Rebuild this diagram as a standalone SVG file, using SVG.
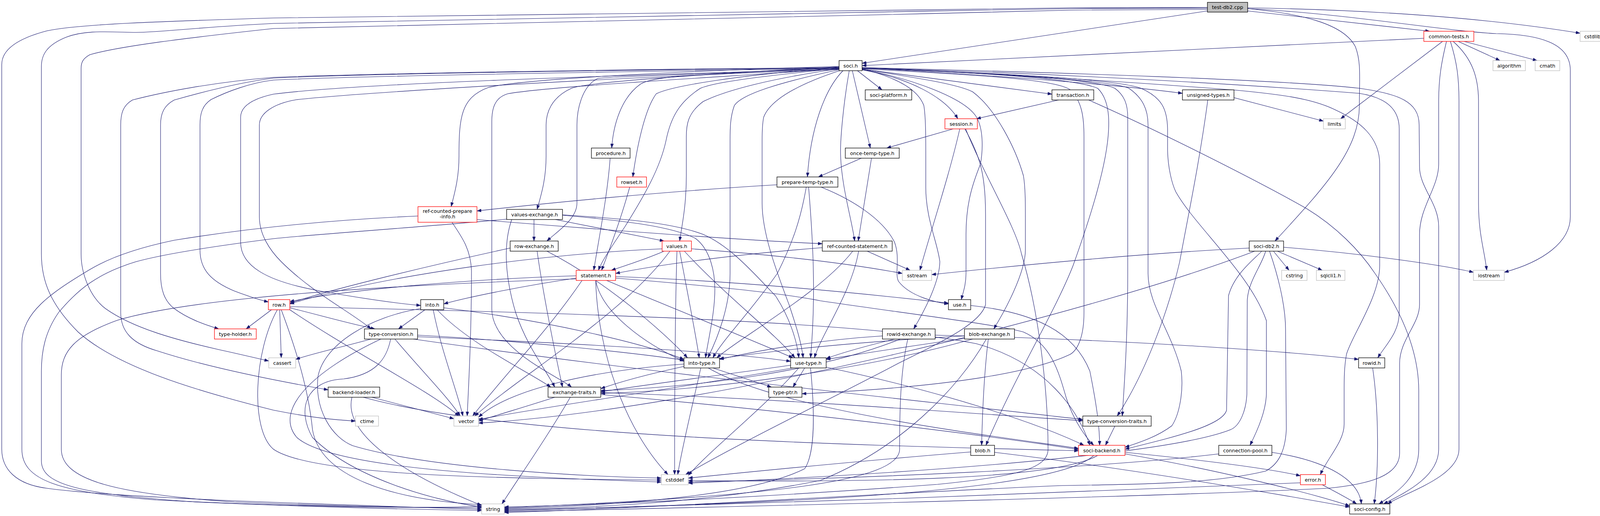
<svg xmlns="http://www.w3.org/2000/svg" width="4137" height="1321" viewBox="0 0 4137 1321">
<defs>
<marker id="a" viewBox="0 0 11 8" refX="11" refY="4" markerWidth="11" markerHeight="8" markerUnits="userSpaceOnUse" orient="auto">
<path d="M0,0 L11,4 L0,8 z" fill="#191970" stroke="#191970" stroke-width="0.5"/>
</marker>
<style>
.e path{fill:none;stroke:#191970;stroke-width:1.1;marker-end:url(#a)}
.b rect{fill:#fff;stroke:#000;stroke-width:1.3}
.r rect{fill:#fff;stroke:#f00;stroke-width:1.3}
.g rect{fill:#fff;stroke:#bfbfbf;stroke-width:1.3}
.t rect{fill:#bfbfbf;stroke:#000;stroke-width:1.3}
text{font-family:"DejaVu Sans",Verdana,sans-serif;font-size:12.7px;text-anchor:middle;fill:#000}
</style>
</defs>
<rect x="0" y="0" width="4137" height="1321" fill="#fff"/>
<g id="edges" class="e">
<path d="M3091,28 L2207,162"/>
<path d="M3194,28 L3660,80"/>
<path d="M3194,20 C3500,25 3800,45 4045,85"/>
<path d="M3194,22 C3450,35 3700,80 3830,86 C3940,88 4020,110 4020,180 L4020,555 C4020,620 3950,670 3851,697"/>
<path d="M3194,22 C3330,35 3440,60 3470,120 C3485,160 3480,200 3480,270 C3480,380 3400,470 3264,617"/>
<path d="M3091,19 L2740,20 C2000,30 1200,42 700,46 C400,55 200,62 120,79 C40,100 4.5,130 4.5,165 L4.5,1150 C4.5,1200 40,1240 120,1250 C300,1275 800,1290 1233,1304"/>
<path d="M3091,21 L2740,22 C2000,35 1200,50 700,60 C500,70 420,82 348,83 C280,82 220,76 170,95 C120,115 106,140 106,170 L106,650 C106,720 130,780 200,850 C300,940 500,1000 700,1050 C800,1070 860,1075 910,1078"/>
<path d="M3091,24 L2740,26 C2000,45 1200,60 700,73 C450,100 300,120 230,140 C212,150 207.6,160 207.6,175 L207.6,650 C207.6,700 230,760 270,790 C340,840 450,870 560,895 C620,908 660,918 688,924"/>
<path d="M3645,98 L2207,168"/>
<path d="M3693,106 L3432,304"/>
<path d="M3733,106 L3840,155"/>
<path d="M3748,106 L3935,155"/>
<path d="M3720,106 C3770,150 3785,200 3785,260 L3785,520 C3785,600 3800,640 3806,692"/>
<path d="M3713,106 C3730,160 3735,200 3735,260 L3735,1150 C3735,1220 3600,1260 3552,1290"/>
<path d="M3703,106 C3690,160 3683,200 3683,260 L3683,420 C3683,480 3634,530 3634,600 L3634,780 C3634,830 3583,870 3583,930 L3583,1160 C3583,1220 3500,1240 3400,1250 C3000,1270 2000,1295 1291,1310"/>
<path d="M2195,181 L2258,230"/>
<path d="M2207,177 L2693,241"/>
<path d="M2207,174 C2500,190 2850,215 3027,239"/>
<path d="M2207,179 C2330,200 2420,250 2452,304"/>
<path d="M2182,181 L2228,379"/>
<path d="M2174,181 C2160,260 2150,360 2152,400 C2155,480 2180,560 2188,617"/>
<path d="M2158,181 C2110,230 2075,330 2067,453"/>
<path d="M2148,170 C1800,180 1350,200 1250,224 C1180,250 1175,300 1175,400 C1175,460 1162,500 1155,529"/>
<path d="M2148,171 C1800,190 1500,210 1463,226 C1410,250 1398,290 1398,320 L1398,400 C1398,460 1385,500 1375,536"/>
<path d="M2148,172 C1850,190 1560,195 1530,201 C1490,220 1477,280 1477,320 L1477,520 C1477,560 1430,590 1400,617"/>
<path d="M2148,173 C1850,190 1680,190 1640,215 C1590,250 1570,320 1566,379"/>
<path d="M2148,174 C1900,190 1720,220 1680,240 C1650,280 1630,380 1620,453"/>
<path d="M2148,175 C1950,195 1830,210 1793,226 C1740,260 1717,300 1705,360 C1690,430 1650,500 1600,580 C1560,640 1540,670 1532,692"/>
<path d="M2148,176 C1980,200 1860,230 1800,260 C1760,290 1757,320 1757,350 L1757,450 C1757,530 1745,580 1740,617"/>
<path d="M2150,178 C2000,210 1900,240 1880,270 C1869,300 1869,330 1869,360 L1869,700 C1869,780 1840,860 1812,916"/>
<path d="M2152,180 C2030,220 1970,260 1955,300 C1951,320 1951,340 1951,360 L1951,520 C1951,600 1990,700 2020,780 C2040,840 2052,880 2056,916"/>
<path d="M2207,178 C2330,200 2470,250 2500,300 C2517,330 2517,380 2510,420 C2490,470 2473,520 2473,600 L2473,700 C2473,730 2465,750 2461,767"/>
<path d="M2207,176 C2300,200 2350,230 2365,270 C2370,300 2370,350 2370,400 L2370,480 C2370,560 2400,620 2406,670 C2405,720 2370,790 2339,842"/>
<path d="M2207,177 C2350,200 2450,215 2490,235 C2550,280 2600,380 2620,450 C2625,480 2625,520 2625,560 L2625,640 C2625,700 2570,800 2544,842"/>
<path d="M2207,174 C2500,185 2750,200 2810,226 C2835,250 2840,290 2838,330 C2835,420 2790,560 2747,680 C2700,800 2600,960 2524,1140"/>
<path d="M2207,175 C2500,185 2850,200 2921,226 C2975,250 2988,280 2989,330 L2989,385 C2990,430 3000,470 3010,491 C3060,580 3200,700 3242,821 L3242,1005 C3242,1050 3220,1100 3200,1140"/>
<path d="M2207,174 C2500,185 2900,210 3166,231 C3280,242 3360,252 3420,282 C3480,310 3532,350 3532,420 L3532,680 C3532,760 3460,860 3447,907 C3441,940 3441,970 3441,1000 L3441,1086 C3441,1130 3400,1170 3380,1215"/>
<path d="M2148,176 C1800,200 1400,222 1300,240 C1265,250 1259,280 1259,312 L1259,791 C1259,840 1300,890 1380,940 C1420,965 1450,980 1463,991"/>
<path d="M2148,177 C1500,195 900,215 700,241 C650,252 616,270 616,300 L616,620 C616,680 680,720 820,745 C950,768 1030,778 1077,782"/>
<path d="M2148,175 C1500,185 900,195 700,205 C640,212 580,235 540,255 C518,270 512,290 512,320 L512,640 C512,690 540,720 600,745 C640,760 665,768 687,773"/>
<path d="M2148,174 C1500,180 900,190 700,200 C620,210 520,235 446,256 C420,270 411,290 411,320 L411,700 C411,740 420,770 446,790 C480,815 520,830 560,842"/>
<path d="M2148,173 C1500,178 900,190 700,198 C550,210 420,235 339,256 C315,270 309,290 309,320 L309,800 C309,850 340,880 402,898 C500,930 650,965 840,998"/>
<path d="M2148,178 C1500,200 900,240 760,255 C700,265 664,290 664,320 L664,555 C664,600 690,640 720,670 C800,750 900,800 950,842"/>
<path d="M2207,176 C2450,190 2700,200 2740,230 C2770,260 2775,300 2775,350 L2775,800 C2775,860 2760,895 2740,907 C2650,950 2450,990 2053,1008"/>
<path d="M2207,174 C2500,186 2850,205 2890,226 C2925,250 2939,280 2939,320 L2939,700 C2939,780 3000,850 3024,950 C3030,1000 3020,1060 3000,1090 C2960,1120 2910,1135 2880,1145"/>
<path d="M2207,174 C2500,185 2800,200 2854,226 C2880,245 2887,270 2887,300 L2887,700 C2887,850 2880,960 2873,1065"/>
<path d="M2207,173 C2700,185 3300,205 3480,226 C3580,240 3633,260 3633,320 L3634,427 C3634,480 3683,520 3683,580 L3683,1150 C3683,1220 3600,1260 3542,1290"/>
<path d="M2207,174 C2800,190 3300,225 3480,239 C3550,250 3582,280 3582,330 L3582,800 C3582,850 3550,880 3527,916"/>
<path d="M2710,256 L2500,304"/>
<path d="M2787,256 C3000,350 3250,480 3345,534 C3420,580 3480,640 3520,700 C3590,800 3632,900 3632,1000 L3632,1150 C3632,1220 3580,1260 3530,1290"/>
<path d="M3159,250 L3388,310"/>
<path d="M3092,256 C3070,420 3040,560 3020,670 C2990,800 2930,960 2860,1065"/>
<path d="M2440,330 L2270,379"/>
<path d="M2457,330 C2430,450 2380,600 2355,692"/>
<path d="M2470,330 C2510,400 2523,450 2523,550 L2523,780 C2510,830 2400,880 2300,930 C2150,1010 1900,1130 1755,1215"/>
<path d="M2472,330 C2520,450 2600,580 2615,650 C2660,800 2683,1000 2683,1150 C2683,1200 2600,1220 2400,1240 C2000,1270 1600,1290 1291,1298"/>
<path d="M2205,405 L2095,453"/>
<path d="M2231,405 L2197,617"/>
<path d="M1989,473 C1700,490 1400,520 1221,540"/>
<path d="M2064,479 C2050,560 2030,620 1990,700 C1920,800 1850,870 1825,916"/>
<path d="M2070,479 C2080,600 2090,750 2075,916"/>
<path d="M2102,479 C2180,510 2260,560 2290,620 C2305,660 2290,700 2300,720 C2330,760 2400,775 2428,778"/>
<path d="M1221,562 C1500,585 1900,615 2105,624"/>
<path d="M1070,553 C800,565 600,590 446,615 C350,635 280,660 230,690 C130,750 56,800 56,880 L56,1150 C56,1230 150,1260 400,1280 C700,1295 1000,1300 1233,1300"/>
<path d="M1157,569 C1185,610 1205,640 1207,693 C1207,850 1200,980 1196,1065"/>
<path d="M1422,562 L1700,617"/>
<path d="M1367,562 L1367,617"/>
<path d="M1440,551 C1600,565 1720,580 1780,610 C1820,640 1830,700 1830,740 C1830,800 1815,860 1806,916"/>
<path d="M1440,550 C1600,560 1720,570 1800,600 C1870,630 1930,700 1985,757 C2020,810 2040,870 2045,916"/>
<path d="M1310,562 C1290,620 1290,700 1320,800 C1350,890 1400,950 1420,991"/>
<path d="M1297,561 C1100,580 800,600 700,611 C550,630 420,650 348,670 C250,700 200,740 150,800 C115,850 106,900 106,950 L106,1180 C106,1240 200,1265 500,1285 C800,1298 1050,1304 1233,1307"/>
<path d="M1306,635 C1100,680 850,740 742,776"/>
<path d="M1400,643 C1550,720 1700,850 1760,916"/>
<path d="M1375,643 C1390,750 1420,900 1440,991"/>
<path d="M1700,643 C1650,665 1600,680 1565,692"/>
<path d="M1740,643 C1760,750 1780,850 1790,916"/>
<path d="M1752,643 C1850,750 1980,850 2035,916"/>
<path d="M1733,643 C1728,800 1727,1000 1727,1215"/>
<path d="M1715,643 C1600,800 1350,950 1215,1065"/>
<path d="M1770,637 C1950,650 2150,670 2310,700"/>
<path d="M1695,637 C1400,650 1000,700 742,778"/>
<path d="M1475,712 C1350,730 1200,760 1136,778"/>
<path d="M1475,706 C1200,715 900,740 742,772"/>
<path d="M1525,718 C1540,800 1650,880 1751,925"/>
<path d="M1553,718 C1700,780 1900,860 2030,916"/>
<path d="M1576,708 C1900,720 2200,750 2428,776"/>
<path d="M1576,712 C1800,730 2000,750 2100,770 C2300,800 2550,830 2620,850 C2690,880 2710,950 2730,1020 C2750,1080 2780,1120 2800,1140"/>
<path d="M1525,718 C1530,900 1600,1100 1710,1215"/>
<path d="M1490,718 C1400,850 1300,950 1210,1065"/>
<path d="M1475,714 C1000,730 500,760 300,820 C190,860 157,900 157,960 L157,1150 C157,1230 300,1265 600,1285 C900,1298 1100,1302 1233,1296"/>
<path d="M2105,634 C1900,650 1700,675 1576,700"/>
<path d="M2183,643 C2100,750 1900,860 1835,916"/>
<path d="M2198,643 C2180,750 2100,860 2085,916"/>
<path d="M2220,643 L2330,692"/>
<path d="M1562,405 C1555,500 1535,600 1520,692"/>
<path d="M1612,479 C1590,560 1560,640 1540,692"/>
<path d="M1088,793 L1020,842"/>
<path d="M1136,788 C1400,820 1650,880 1751,920"/>
<path d="M1109,793 C1130,900 1170,1000 1185,1065"/>
<path d="M1119,793 C1200,880 1350,950 1410,991"/>
<path d="M1077,790 C950,810 830,880 814,964 C805,1050 850,1120 903,1141 C1100,1200 1500,1220 1693,1224"/>
<path d="M695,793 L630,842"/>
<path d="M742,788 C830,810 900,830 960,842"/>
<path d="M716,793 L720,916"/>
<path d="M742,793 C900,900 1100,1000 1175,1065"/>
<path d="M720,793 C760,900 790,1000 800,1100 C820,1220 1000,1280 1233,1292"/>
<path d="M710,793 C650,900 640,1100 700,1150 C800,1220 1300,1225 1693,1229"/>
<path d="M742,785 C1400,800 2200,820 2500,880 C2680,930 2760,1050 2790,1140"/>
<path d="M950,868 C870,890 800,905 757,920"/>
<path d="M1069,858 C1300,870 1600,900 1751,922"/>
<path d="M1069,862 C1500,880 1850,900 2024,925"/>
<path d="M1058,868 C1700,960 2400,1030 2772,1074"/>
<path d="M1011,868 C1080,950 1150,1020 1178,1065"/>
<path d="M1000,868 C990,920 960,960 880,970 C780,975 760,1050 800,1120 C900,1220 1100,1280 1233,1298"/>
<path d="M975,868 C800,950 700,1050 760,1120 C850,1200 1300,1222 1693,1234"/>
<path d="M1751,938 C1650,960 1580,980 1538,995"/>
<path d="M1794,942 C1770,1050 1745,1150 1735,1215"/>
<path d="M1825,942 C1880,960 1940,980 1975,991"/>
<path d="M1813,942 C2000,1050 2500,1110 2761,1148"/>
<path d="M1751,932 C1500,950 1300,1000 1225,1068"/>
<path d="M2024,935 C1850,960 1650,985 1538,1003"/>
<path d="M2045,942 C1950,1050 1820,1150 1762,1217"/>
<path d="M2060,942 L2030,991"/>
<path d="M2115,940 C2400,1000 2650,1080 2775,1140"/>
<path d="M2030,942 C1700,1000 1400,1040 1225,1074"/>
<path d="M2075,942 C2090,1100 2080,1170 2060,1200 C1900,1280 1500,1295 1291,1302"/>
<path d="M2485,782 C2650,800 2750,850 2790,950 C2810,1050 2815,1100 2815,1140"/>
<path d="M2259,860 C2100,870 1950,895 1842,920"/>
<path d="M2290,868 C2200,890 2150,905 2115,918"/>
<path d="M2305,868 C2100,950 1800,990 1538,1000"/>
<path d="M2394,858 C2900,870 3300,900 3478,920"/>
<path d="M2324,868 C2305,950 2303,1050 2303,1150 C2303,1230 2000,1270 1291,1300"/>
<path d="M2469,860 C2200,875 2000,895 1842,918"/>
<path d="M2480,865 C2300,890 2180,910 2115,920"/>
<path d="M2490,868 C2200,950 1800,1000 1538,1007"/>
<path d="M2530,868 C2520,950 2515,1050 2513,1140"/>
<path d="M2525,868 C2450,1000 2300,1150 2100,1230 C1800,1290 1500,1300 1291,1304"/>
<path d="M1538,1005 C2000,1020 2500,1060 2772,1077"/>
<path d="M1538,1010 C2000,1050 2500,1110 2761,1151"/>
<path d="M1420,1017 C1350,1040 1280,1060 1225,1078"/>
<path d="M1460,1017 C1400,1120 1330,1220 1285,1290"/>
<path d="M2854,1091 L2830,1140"/>
<path d="M952,1017 L1162,1072"/>
<path d="M901,1017 C880,1100 1000,1200 1233,1294"/>
<path d="M930,1017 C1300,1120 2200,1140 2761,1154"/>
<path d="M2485,1157 C2200,1180 1900,1210 1762,1224"/>
<path d="M2546,1158 C2900,1200 3300,1270 3455,1298"/>
<path d="M2880,1158 C3100,1180 3250,1200 3329,1218"/>
<path d="M2880,1162 C3100,1200 3350,1260 3455,1295"/>
<path d="M2810,1166 C2700,1230 2200,1235 1762,1230"/>
<path d="M2800,1166 C2700,1260 2000,1290 1291,1306"/>
<path d="M3256,1158 C3400,1180 3480,1230 3485,1290"/>
<path d="M3120,1162 C2800,1200 2200,1225 1762,1234"/>
<path d="M3385,1241 C3420,1260 3450,1275 3473,1290"/>
<path d="M3329,1236 C2800,1260 1800,1295 1291,1308"/>
<path d="M3514,942 C3530,1050 3530,1200 3518,1290"/>
<path d="M3198,635 C2900,650 2600,680 2385,703"/>
<path d="M3260,643 L3300,692"/>
<path d="M3270,643 L3385,692"/>
<path d="M3286,633 C3500,650 3700,680 3772,697"/>
<path d="M3230,643 C3215,660 3160,700 3145,757 L3140,1050 C3130,1090 3000,1120 2880,1150"/>
<path d="M3212,643 C2800,800 1800,1050 1225,1083"/>
<path d="M3250,643 C3270,700 3291,780 3291,843 L3293,1099 C3290,1160 3270,1190 3240,1206 C3100,1240 2900,1240 2720,1243 C2300,1260 1700,1300 1291,1312"/>
<path d="M3240,643 C3230,680 3195,720 3193,770 L3192,1009 C3190,1050 3175,1090 3150,1100 C3000,1160 2400,1210 1762,1237"/>
</g>
<g id="n-test" class="t"><rect x="3091" y="6" width="103" height="25"/><text x="3142.5" y="23">test-db2.cpp</text></g>
<g id="n-common-tests" class="r"><rect x="3645" y="80" width="128" height="26"/><text x="3709" y="97.5">common-tests.h</text></g>
<g id="n-cstdlib" class="g"><rect x="4045" y="80" width="63" height="26"/><text x="4076.5" y="97.5">cstdlib</text></g>
<g id="n-soci" class="b"><rect x="2148" y="155" width="59" height="26"/><text x="2177.5" y="172.5">soci.h</text></g>
<g id="n-algorithm" class="g"><rect x="3822" y="155" width="83" height="26"/><text x="3863.5" y="172.5">algorithm</text></g>
<g id="n-cmath" class="g"><rect x="3930" y="155" width="63" height="26"/><text x="3961.5" y="172.5">cmath</text></g>
<g id="n-soci-platform" class="b"><rect x="2215" y="230" width="119" height="26"/><text x="2274.5" y="247.5">soci-platform.h</text></g>
<g id="n-transaction" class="b"><rect x="2693" y="230" width="107" height="26"/><text x="2746.5" y="247.5">transaction.h</text></g>
<g id="n-unsigned-types" class="b"><rect x="3027" y="230" width="132" height="26"/><text x="3093" y="247.5">unsigned-types.h</text></g>
<g id="n-session" class="r"><rect x="2419" y="304" width="83" height="26"/><text x="2460.5" y="321.5">session.h</text></g>
<g id="n-limits" class="g"><rect x="3388" y="304" width="56" height="26"/><text x="3416" y="321.5">limits</text></g>
<g id="n-procedure" class="b"><rect x="1514" y="379" width="99" height="26"/><text x="1563.5" y="396.5">procedure.h</text></g>
<g id="n-once-temp-type" class="b"><rect x="2164" y="379" width="138" height="26"/><text x="2233" y="396.5">once-temp-type.h</text></g>
<g id="n-rowset" class="r"><rect x="1579" y="453" width="76" height="26"/><text x="1617" y="470.5">rowset.h</text></g>
<g id="n-prepare-temp-type" class="b"><rect x="1989" y="453" width="156" height="26"/><text x="2067" y="470.5">prepare-temp-type.h</text></g>
<g id="n-ref-counted-prepare-info" class="r"><rect x="1070" y="529" width="151" height="40"/><text x="1145.5" y="545">ref-counted-prepare</text><text x="1145.5" y="559">-info.h</text></g>
<g id="n-values-exchange" class="b"><rect x="1297" y="536" width="143" height="26"/><text x="1368.5" y="553.5">values-exchange.h</text></g>
<g id="n-row-exchange" class="b"><rect x="1306" y="617" width="123" height="26"/><text x="1367.5" y="634.5">row-exchange.h</text></g>
<g id="n-values" class="r"><rect x="1695" y="617" width="75" height="26"/><text x="1732.5" y="634.5">values.h</text></g>
<g id="n-ref-counted-statement" class="b"><rect x="2105" y="617" width="179" height="26"/><text x="2194.5" y="634.5">ref-counted-statement.h</text></g>
<g id="n-soci-db2" class="b"><rect x="3198" y="617" width="88" height="26"/><text x="3242" y="634.5">soci-db2.h</text></g>
<g id="n-statement" class="r"><rect x="1475" y="692" width="101" height="26"/><text x="1525.5" y="709.5">statement.h</text></g>
<g id="n-sstream" class="g"><rect x="2310" y="692" width="75" height="26"/><text x="2347.5" y="709.5">sstream</text></g>
<g id="n-cstring" class="g"><rect x="3281" y="692" width="65" height="26"/><text x="3313.5" y="709.5">cstring</text></g>
<g id="n-sqlcli1" class="g"><rect x="3370" y="692" width="73" height="26"/><text x="3406.5" y="709.5">sqlcli1.h</text></g>
<g id="n-iostream" class="g"><rect x="3772" y="692" width="79" height="26"/><text x="3811.5" y="709.5">iostream</text></g>
<g id="n-row" class="r"><rect x="687" y="767" width="55" height="26"/><text x="714.5" y="784.5">row.h</text></g>
<g id="n-into" class="b"><rect x="1077" y="767" width="59" height="26"/><text x="1106.5" y="784.5">into.h</text></g>
<g id="n-use" class="b"><rect x="2428" y="767" width="57" height="26"/><text x="2456.5" y="784.5">use.h</text></g>
<g id="n-type-holder" class="r"><rect x="549" y="842" width="107" height="26"/><text x="602.5" y="859.5">type-holder.h</text></g>
<g id="n-type-conversion" class="b"><rect x="933" y="842" width="136" height="26"/><text x="1001" y="859.5">type-conversion.h</text></g>
<g id="n-rowid-exchange" class="b"><rect x="2259" y="842" width="135" height="26"/><text x="2326.5" y="859.5">rowid-exchange.h</text></g>
<g id="n-blob-exchange" class="b"><rect x="2469" y="842" width="128" height="26"/><text x="2533" y="859.5">blob-exchange.h</text></g>
<g id="n-cassert" class="g"><rect x="688" y="916" width="69" height="26"/><text x="722.5" y="933.5">cassert</text></g>
<g id="n-into-type" class="b"><rect x="1751" y="916" width="91" height="26"/><text x="1796.5" y="933.5">into-type.h</text></g>
<g id="n-use-type" class="b"><rect x="2024" y="916" width="91" height="26"/><text x="2069.5" y="933.5">use-type.h</text></g>
<g id="n-rowid" class="b"><rect x="3478" y="916" width="67" height="26"/><text x="3511.5" y="933.5">rowid.h</text></g>
<g id="n-backend-loader" class="b"><rect x="840" y="991" width="132" height="26"/><text x="906" y="1008.5">backend-loader.h</text></g>
<g id="n-exchange-traits" class="b"><rect x="1403" y="991" width="135" height="26"/><text x="1470.5" y="1008.5">exchange-traits.h</text></g>
<g id="n-type-ptr" class="b"><rect x="1968" y="991" width="85" height="26"/><text x="2010.5" y="1008.5">type-ptr.h</text></g>
<g id="n-ctime" class="g"><rect x="910" y="1065" width="59" height="26"/><text x="939.5" y="1082.5">ctime</text></g>
<g id="n-vector" class="g"><rect x="1162" y="1065" width="63" height="26"/><text x="1193.5" y="1082.5">vector</text></g>
<g id="n-type-conversion-traits" class="b"><rect x="2772" y="1065" width="175" height="26"/><text x="2859.5" y="1082.5">type-conversion-traits.h</text></g>
<g id="n-blob" class="b"><rect x="2485" y="1140" width="61" height="26"/><text x="2515.5" y="1157.5">blob.h</text></g>
<g id="n-soci-backend" class="r"><rect x="2761" y="1140" width="119" height="26"/><text x="2820.5" y="1157.5">soci-backend.h</text></g>
<g id="n-connection-pool" class="b"><rect x="3120" y="1140" width="136" height="26"/><text x="3188" y="1157.5">connection-pool.h</text></g>
<g id="n-cstddef" class="g"><rect x="1693" y="1215" width="69" height="26"/><text x="1727.5" y="1232.5">cstddef</text></g>
<g id="n-error" class="r"><rect x="3329" y="1215" width="64" height="26"/><text x="3361" y="1232.5">error.h</text></g>
<g id="n-string" class="g"><rect x="1233" y="1290" width="58" height="26"/><text x="1262" y="1307.5">string</text></g>
<g id="n-soci-config" class="b"><rect x="3455" y="1290" width="103" height="26"/><text x="3506.5" y="1307.5">soci-config.h</text></g>
</svg>
